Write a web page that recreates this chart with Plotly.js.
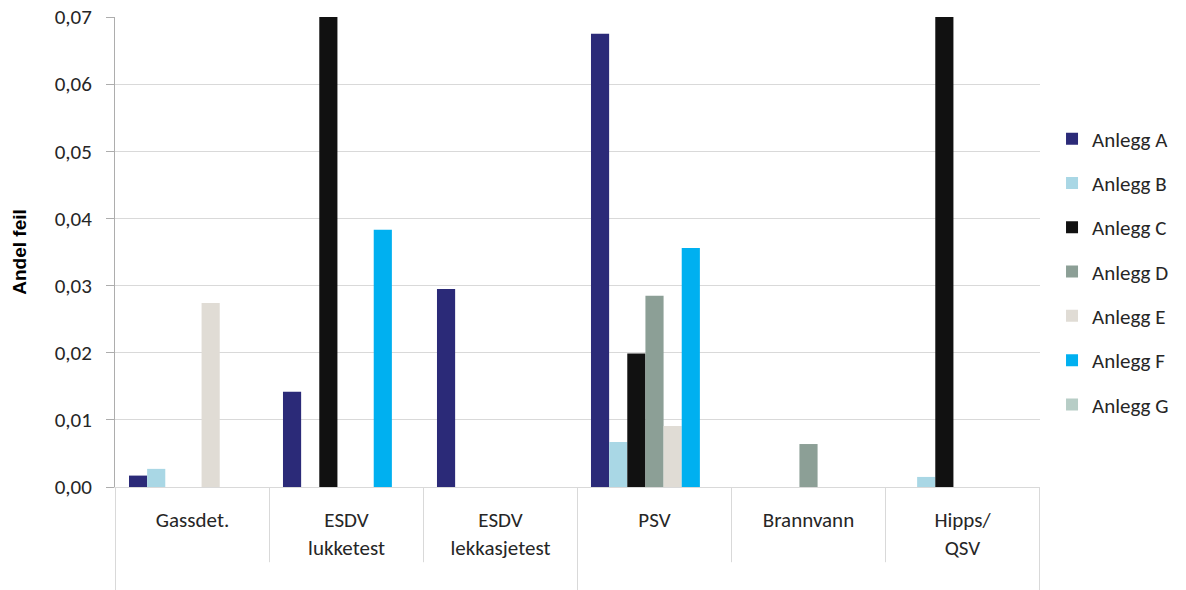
<!DOCTYPE html>
<html>
<head>
<meta charset="utf-8">
<script src="https://cdn.plot.ly/plotly-3.0.1.min.js"></script>
<style>
html,body{margin:0;padding:0;background:#fff;}
#chart{width:1186px;height:590px;}
</style>
</head>
<body>
<div id="chart"></div>
<script>
// Categories (x axis)
var categories = ["Gassdet.", "ESDV<br>lukketest", "ESDV<br>lekkasjetest", "PSV", "Brannvann", "Hipps/<br>QSV"];
// Series (Andel feil); C values in ESDV lukketest and Hipps/QSV exceed the axis (clipped at 0,07)
var seriesNames = ["Anlegg A", "Anlegg B", "Anlegg C", "Anlegg D", "Anlegg E", "Anlegg F", "Anlegg G"];
var anleggA = [0.0017, 0.0142, 0.0295, 0.0675, 0, 0];
var anleggB = [0.0027, 0, 0, 0.0067, 0, 0.0015];
var anleggC = [0, 0.08, 0, 0.0199, 0, 0.08];
var anleggD = [0, 0, 0, 0.0285, 0.0064, 0];
var anleggE = [0.0274, 0, 0, 0.0091, 0, 0];
var anleggF = [0, 0.0383, 0, 0.0356, 0, 0];
var anleggG = [0, 0, 0, 0, 0, 0];
var yTicks = [0, 0.01, 0.02, 0.03, 0.04, 0.05, 0.06, 0.07];

var seriesValues = [anleggA, anleggB, anleggC, anleggD, anleggE, anleggF, anleggG];
var colors = ["#2B2A78", "#A9D7E5", "#111111", "#8C9F96", "#E0DCD5", "#00B0F0", "#B7CDC6"];

var FONT = "Carlito, Lato, 'Open Sans', sans-serif";
var FS = 21;

var traces = seriesNames.map(function(name, i){
  return {
    type: "bar",
    name: name,
    x: categories,
    y: seriesValues[i],
    marker: {color: colors[i], line: {width: 0}},
    legendgroup: "g" + i,
    hoverinfo: "x+y+name"
  };
});

// separators under the category axis
var shapes = [];
for (var k = 0; k <= categories.length; k++) {
  var outer = (k === 0 || k === 3 || k === categories.length);
  shapes.push({
    type: "line", xref: "x", yref: "paper",
    x0: k - 0.5, x1: k - 0.5, y0: 0, y1: outer ? -0.222 : -0.16,
    line: {color: "#D9D9D9", width: 1}
  });
}

var layout = {
  width: 1186, height: 590,
  margin: {l: 115, r: 144, t: 17, b: 103},
  paper_bgcolor: "#ffffff",
  plot_bgcolor: "#ffffff",
  font: {family: FONT, size: FS, color: "#262626"},
  barmode: "group",
  bargap: 0.175,
  bargroupgap: 0,
  showlegend: true,
  legend: {
    x: 1.013, xanchor: "left", y: 0.4575, yanchor: "middle",
    font: {family: FONT, size: FS, color: "#262626"},
    tracegroupgap: 14,
    itemwidth: 30,
    bgcolor: "rgba(0,0,0,0)"
  },
  xaxis: {
    type: "category",
    showgrid: false,
    showline: true, linecolor: "#D9D9D9", linewidth: 1,
    ticks: "", ticklabelstandoff: 14,
    tickfont: {family: FONT, size: FS, color: "#262626"},
    zeroline: false,
    fixedrange: true
  },
  yaxis: {
    range: [0, 0.07],
    tickvals: yTicks,
    tickformat: ".2f",
    showgrid: true, gridcolor: "#D9D9D9", gridwidth: 1,
    showline: true, linecolor: "#ADADAD", linewidth: 1,
    ticks: "outside", ticklen: 8, tickcolor: "#ADADAD",
    ticklabelstandoff: 10,
    tickfont: {family: FONT, size: FS, color: "#262626"},
    zeroline: false,
    title: {text: "Andel feil", font: {family: "'Liberation Sans', Arial, sans-serif", size: 19, color: "#000000", weight: "bold"}, standoff: 22},
    fixedrange: true
  },
  separators: ", ",
  shapes: shapes
};

Plotly.newPlot("chart", traces, layout, {displayModeBar: false, staticPlot: true});
</script>
</body>
</html>
